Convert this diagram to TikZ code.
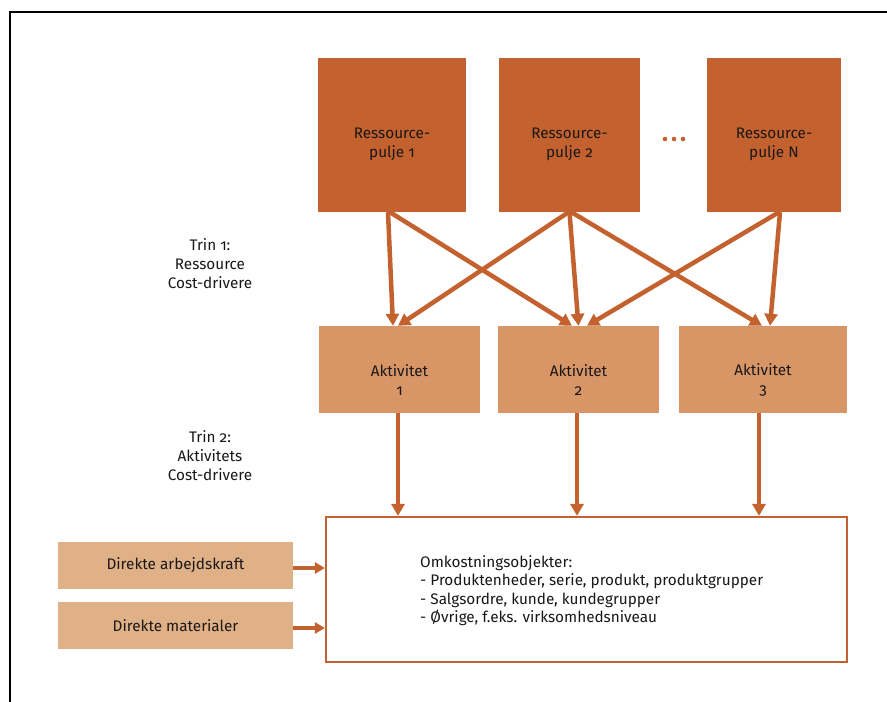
\documentclass[tikz,border=0pt]{standalone}
\usepackage{fontspec}
\setmainfont{Fira Sans}[Numbers=OldStyle]
\usetikzlibrary{arrows.meta,calc}
\definecolor{dark}{HTML}{C4622F}
\definecolor{actc}{HTML}{D89666}
\definecolor{lightc}{HTML}{E0B086}
\definecolor{ink}{HTML}{1A1718}
\tikzset{
  rbox/.style={fill=dark,draw=none,inner sep=0pt,minimum height=154pt},
  abox/.style={fill=actc,draw=none,inner sep=0pt,minimum height=87pt},
  lbox/.style={fill=lightc,draw=none,inner sep=0pt,minimum width=235pt,minimum height=47pt,text=ink},
  objbox/.style={draw=dark,line width=2.2pt,fill=white,inner sep=0pt,minimum width=521pt,minimum height=145pt},
  txt/.style={text=ink,align=center,font=\fontsize{15.3}{19}\selectfont,inner sep=0pt},
  arr/.style={draw=dark,line width=4.5pt,-{Triangle[length=12pt,width=13pt]}},
  sarr/.style={draw=dark,line width=4.5pt,-{Triangle[length=10pt,width=11pt]}},
}
\begin{document}
\begin{tikzpicture}[x=1pt,y=-1pt]
\useasboundingbox (0,0) rectangle (887,702);
\draw[line width=1.5pt,black] (10,702) |- (887,12);

% resource pools
\node[rbox,minimum width=148pt] (r1) at (392,135) {};
\node[rbox,minimum width=141pt] (r2) at (569.5,135) {};
\node[rbox,minimum width=134pt] (rN) at (774,135) {};
\node[txt] (r1t) at ($(r1.center)+(0,9.5)$) {Ressource-\\pulje 1};
\node[txt] (r2t) at ($(r2.center)+(0,9.5)$) {Ressource-\\pulje 2};
\node[txt] (rNt) at ($(rN.center)+(0,9.5)$) {Ressource-\\pulje N};
\foreach \x in {665,674,683} \fill[dark] (\x,139) circle (2.3pt);

% activities
\node[abox,minimum width=161pt] (a1) at (399.5,369.5) {};
\node[abox,minimum width=161pt] (a2) at (578.5,369.5) {};
\node[abox,minimum width=168pt] (a3) at (763,369.5) {};
\node[txt] (a1t) at ($(a1.center)+(0,10.5)$) {Aktivitet\\1};
\node[txt] (a2t) at ($(a2.center)+(0,10.5)$) {Aktivitet\\2};
\node[txt] (a3t) at ($(a3.center)+(0,10.5)$) {Aktivitet\\3};

% step labels
\node[txt] (trin1) at (210,264) {Trin 1:\\Ressource\\Cost-drivere};
\node[txt] (trin2) at (210,456) {Trin 2:\\Aktivitets\\Cost-drivere};

% cost objects
\node[objbox] (obj) at (586.5,589.5) {};
\node[txt,align=left,anchor=west,font=\fontsize{15.3}{18.5}\selectfont] (objt) at (420,590.5)
  {Omkostningsobjekter:\\- Produktenheder, serie, produkt, produktgrupper\\- Salgsordre, kunde, kundegrupper\\- Øvrige, f.eks. virksomhedsniveau};

% direct costs
\node[lbox] (d1) at (175.5,565.5) {\fontsize{15.3}{18}\selectfont Direkte arbejdskraft};
\node[lbox] (d2) at (175.5,625.5) {\fontsize{15.3}{18}\selectfont Direkte materialer};

% resource -> activity arrows
\draw[arr] ([xshift=-4pt]r1.south) -- ([xshift=-6.5pt]a1.north);
\draw[arr] ([xshift=-2pt]r1.south) -- ([xshift=-6.5pt]a2.north);
\draw[arr] ([xshift=-1pt]r2.south) -- ([xshift=-1.5pt]a1.north);
\draw[arr] (r2.south) -- (a2.north);
\draw[arr] ([xshift=2pt]r2.south) -- ([xshift=-1pt]a3.north);
\draw[arr] ([xshift=5pt]rN.south) -- ([xshift=8.5pt]a2.north);
\draw[arr] ([xshift=6pt]rN.south) -- ([xshift=7pt]a3.north);

% activity -> cost objects
\draw[arr] ([xshift=-1.5pt]a1.south) -- ([xshift=-1.5pt]a1.south |- obj.north);
\draw[arr] ([xshift=-1.5pt]a2.south) -- ([xshift=-1.5pt]a2.south |- obj.north);
\draw[arr] ([xshift=-4pt]a3.south) -- ([xshift=-4pt]a3.south |- obj.north);

% direct -> cost objects
\draw[sarr] ([yshift=-2.5pt]d1.east) -- ([yshift=-2.5pt]d1.east -| obj.west);
\draw[sarr] ([yshift=-2.5pt]d2.east) -- ([yshift=-2.5pt]d2.east -| obj.west);
\end{tikzpicture}
\end{document}
